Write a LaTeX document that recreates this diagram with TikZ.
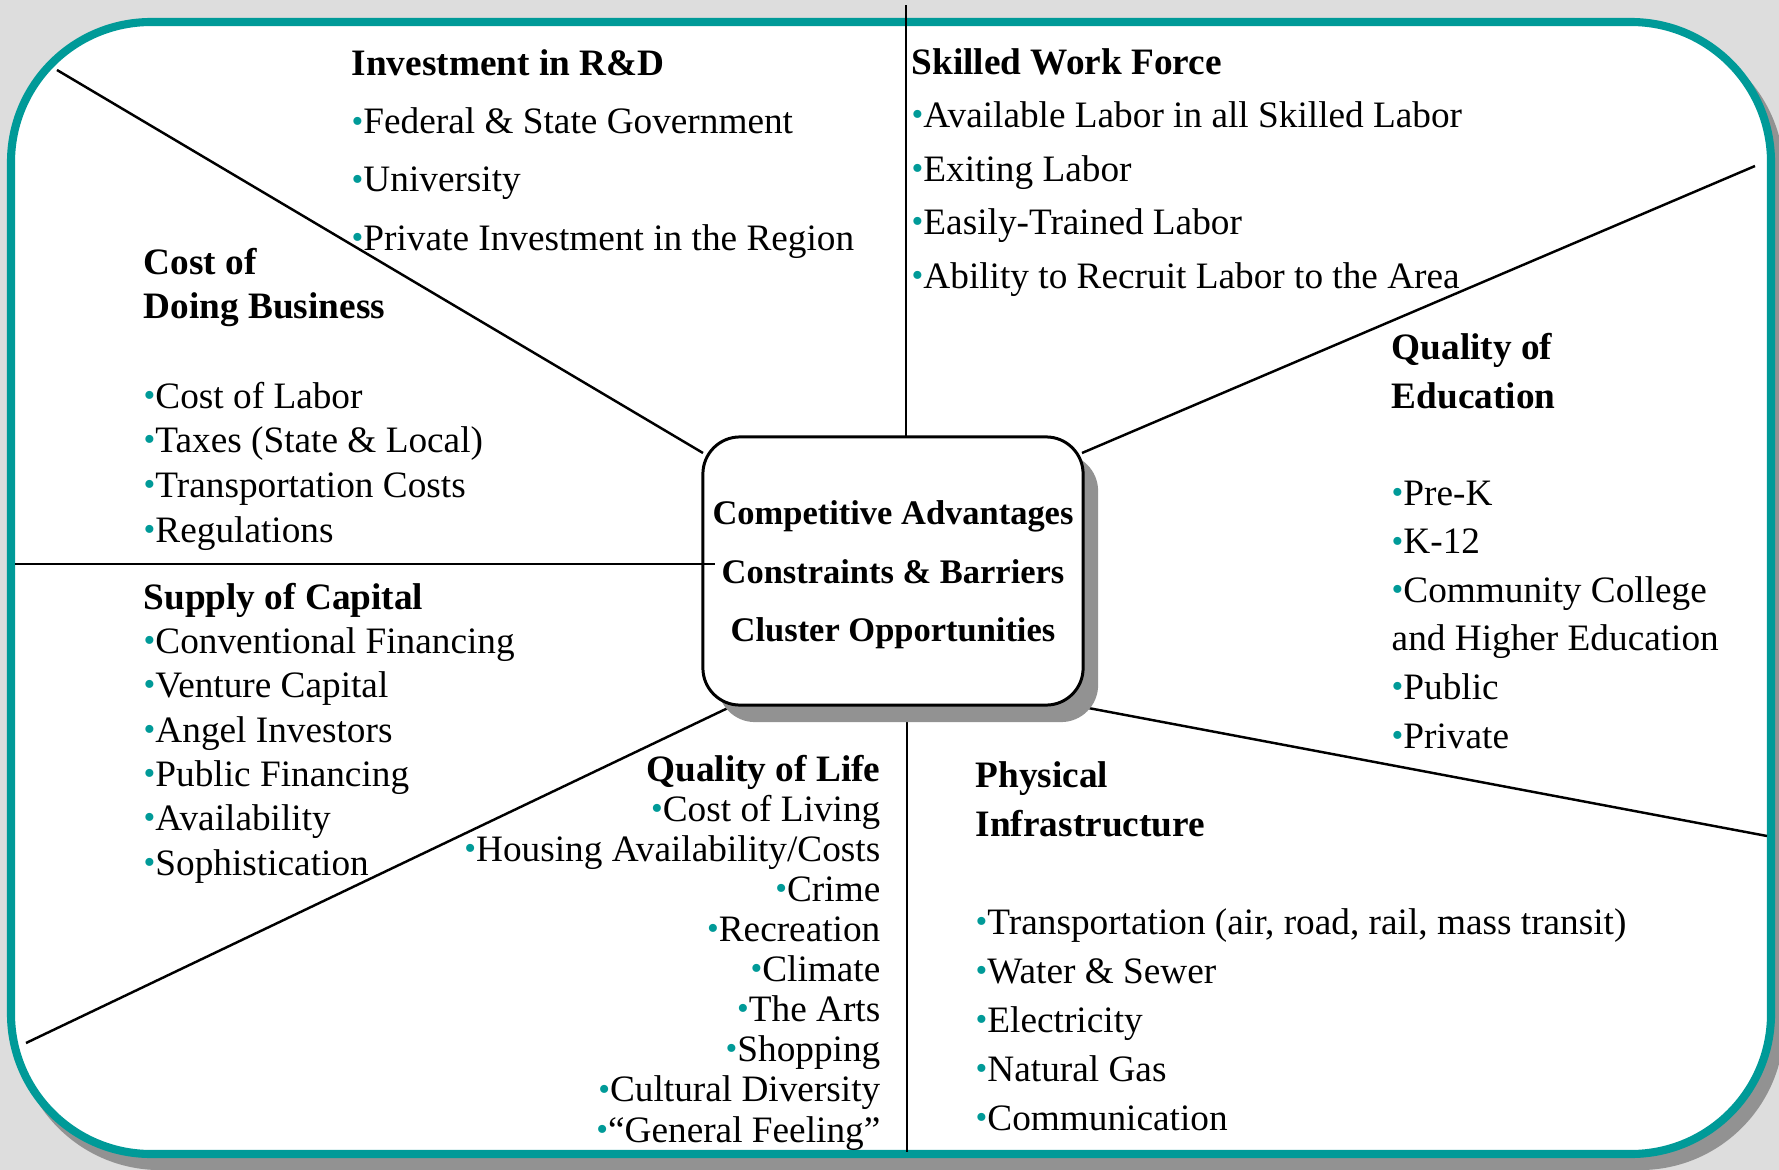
\documentclass[tikz,border=0pt]{standalone}
\usepackage{fontspec}
\setmainfont{Liberation Serif}
\usetikzlibrary{shadows}

\definecolor{rimteal}{HTML}{009A98}
\definecolor{pagegrey}{HTML}{DDDDDD}
\definecolor{shadegrey}{HTML}{929292}

\newcommand{\bul}{\textcolor{rimteal}{\raisebox{0.05em}{\scalebox{0.9}{•}}}}

\begin{document}
\begin{tikzpicture}[x=0.01cm, y=-0.01cm,
	spoke/.style={line width=0.7pt},
	block/.style={inner sep=0pt, align=left, anchor=base west, font=\fontsize{10.6}{#1}\selectfont},
	rblock/.style={block=#1, align=right, anchor=base east}]

	\clip (0,0) rectangle (1779,1170);
	\fill[pagegrey] (0,0) rectangle (1779,1170);
	\filldraw[shadegrey, line width=2.3pt, rounded corners=1.4cm] (20,34) rectangle (1780,1166);
	\filldraw[fill=white, draw=rimteal, line width=2.3pt, rounded corners=1.4cm] (11,22) rectangle (1771,1154);

	\coordinate (nw-rim) at (57,70);    \coordinate (nw-hub) at (703,453);
	\coordinate (n-rim) at (906,5);     \coordinate (n-hub) at (906,437);
	\coordinate (ne-rim) at (1755,166); \coordinate (ne-hub) at (1082,453);
	\coordinate (w-rim) at (15,564);    \coordinate (w-hub) at (715,564);
	\coordinate (sw-rim) at (26,1043);  \coordinate (sw-hub) at (730,707);
	\coordinate (se-rim) at (1767,836); \coordinate (se-hub) at (1083,707);
	\coordinate (s-rim) at (907,1152);  \coordinate (s-hub) at (907,722);

	\foreach \d in {nw,n,ne,sw,se,s}
		\draw[spoke] (\d-hub) -- (\d-rim);

	\node[draw, line width=0.85pt, fill=white, rounded corners=0.37cm, minimum width=3.8cm, minimum height=2.68cm,
		drop shadow={shadow xshift=0.15cm, shadow yshift=-0.17cm, fill=shadegrey, opacity=1}] (hub) at (893,571) {};
	\node[align=center, font=\fontsize{9.8}{16.6}\selectfont\bfseries] (hubtext) at (893,575)
		{Competitive Advantages\\Constraints \& Barriers\\Cluster Opportunities};
	\draw[spoke] (w-rim) -- (w-hub);

	\node[block=16.5pt] (rnd) at (351,250) {\textbf{Investment in R\&D}\\\bul Federal \& State Government\\\bul University\\\bul Private Investment in the Region};
	\node[block=15.2pt] (skill) at (911,288) {\textbf{Skilled Work Force}\\\bul Available Labor in all Skilled Labor\\\bul Exiting Labor\\\bul Easily-Trained Labor\\\bul Ability to Recruit Labor to the Area};
	\node[block=12.7pt] (cost) at (143,542) {\textbf{Cost of}\\\textbf{Doing Business}\\[12.7pt]\bul Cost of Labor\\\bul Taxes (State \& Local)\\\bul Transportation Costs\\\bul Regulations};
	\node[block=12.6pt] (capital) at (143,875) {\textbf{Supply of Capital}\\\bul Conventional Financing\\\bul Venture Capital\\\bul Angel Investors\\\bul Public Financing\\\bul Availability\\\bul Sophistication};
	\node[rblock=11.4pt] (life) at (881,1142) {\textbf{Quality of Life}\\\bul Cost of Living\\\bul Housing Availability/Costs\\\bul Crime\\\bul Recreation\\\bul Climate\\\bul The Arts\\\bul Shopping\\\bul Cultural Diversity\\\bul “General Feeling”};
	\node[block=13.9pt] (infra) at (975,1130) {\textbf{Physical}\\\textbf{Infrastructure}\\[13.9pt]\bul Transportation (air, road, rail, mass transit)\\\bul Water \& Sewer\\\bul Electricity\\\bul Natural Gas\\\bul Communication};
	\node[block=13.8pt] (school) at (1391,748) {\textbf{Quality of}\\\textbf{Education}\\[13.8pt]\bul Pre-K\\\bul K-12\\\bul Community College\\and Higher Education\\\bul Public\\\bul Private};
\end{tikzpicture}
\end{document}
